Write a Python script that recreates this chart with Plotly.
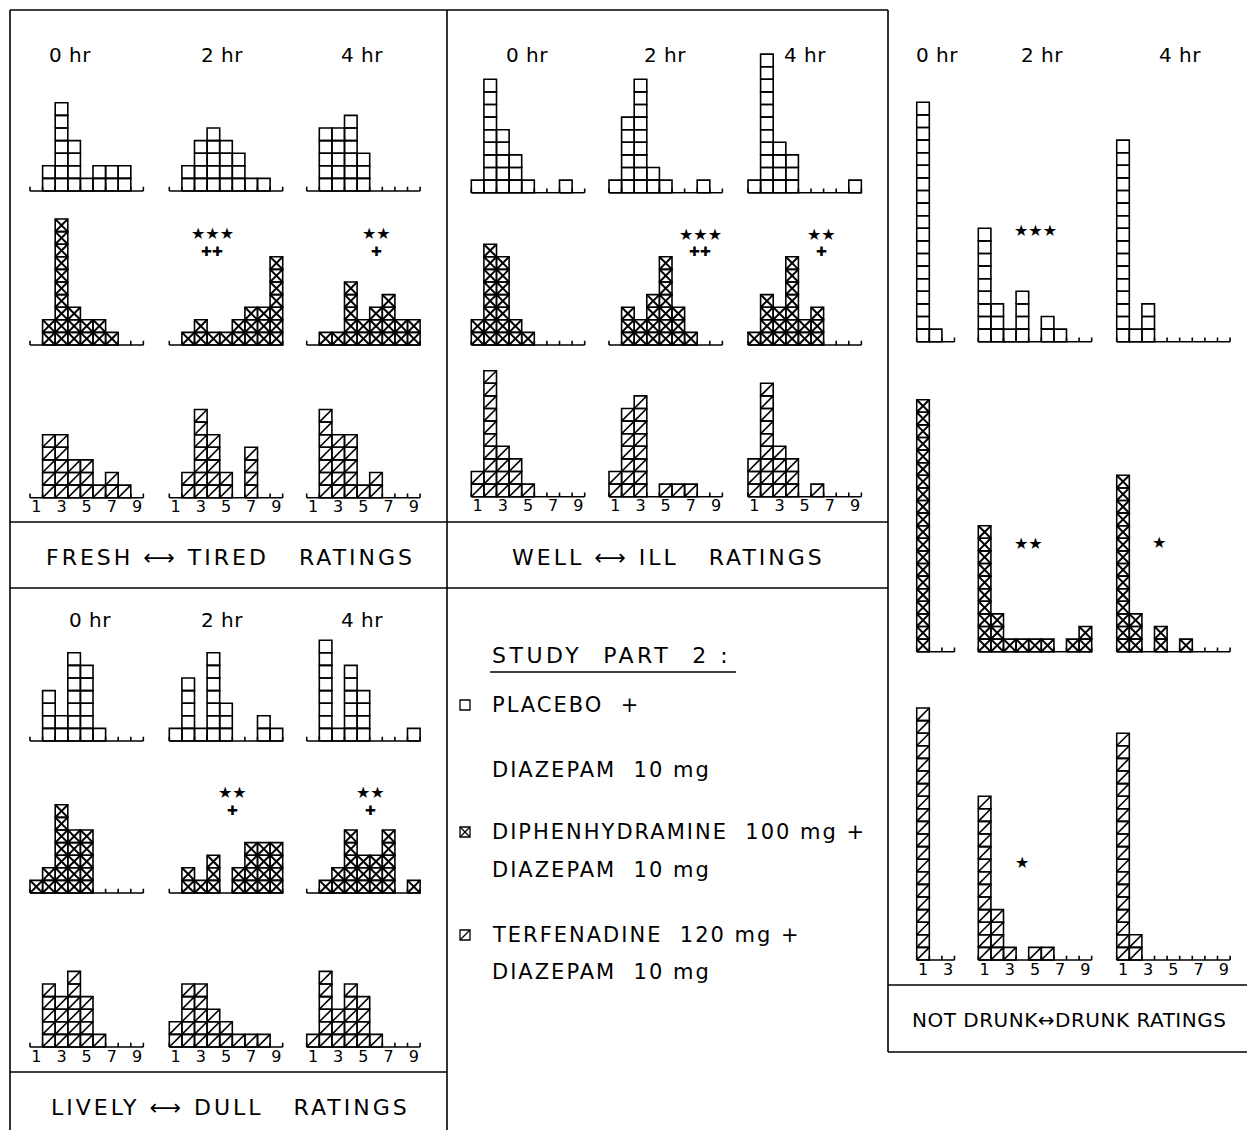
import plotly.graph_objects as go

W, H = 1247, 1130
S = 12.6  # pixel size of one square (style)

TIMES = ["0 hr", "2 hr", "4 hr"]
RATINGS = [1, 2, 3, 4, 5, 6, 7, 8, 9]
TICK_VALUES = [1, 3, 5, 7, 9]
TICK_LABELS = ["1", "3", "5", "7", "9"]

# counts of subjects per rating (1..9); one list per time (0, 2, 4 hr)
fresh_tired_placebo = [[0, 2, 7, 4, 1, 2, 2, 2, 0], [0, 2, 4, 5, 4, 3, 1, 1, 0], [0, 5, 5, 6, 3, 0, 0, 0, 0]]
fresh_tired_diph = [[0, 2, 10, 3, 2, 2, 1, 0, 0], [0, 1, 2, 1, 1, 2, 3, 3, 7], [0, 1, 1, 5, 2, 3, 4, 2, 2]]
fresh_tired_terf = [[0, 5, 5, 3, 3, 1, 2, 1, 0], [0, 2, 7, 5, 2, 0, 4, 0, 0], [0, 7, 5, 5, 1, 2, 0, 0, 0]]

well_ill_placebo = [[1, 9, 5, 3, 1, 0, 0, 1, 0], [1, 6, 9, 2, 1, 0, 0, 1, 0], [1, 11, 4, 3, 0, 0, 0, 0, 1]]
well_ill_diph = [[2, 8, 7, 2, 1, 0, 0, 0, 0], [0, 3, 2, 4, 7, 3, 1, 0, 0], [1, 4, 3, 7, 2, 3, 0, 0, 0]]
well_ill_terf = [[2, 10, 4, 3, 1, 0, 0, 0, 0], [2, 7, 8, 0, 1, 1, 1, 0, 0], [3, 9, 4, 3, 0, 1, 0, 0, 0]]

lively_dull_placebo = [[0, 4, 2, 7, 6, 1, 0, 0, 0], [1, 5, 1, 7, 3, 0, 0, 2, 1], [0, 8, 1, 6, 4, 0, 0, 0, 1]]
lively_dull_diph = [[1, 2, 7, 5, 5, 0, 0, 0, 0], [0, 2, 1, 3, 0, 2, 4, 4, 4], [0, 1, 2, 5, 3, 3, 5, 0, 1]]
lively_dull_terf = [[0, 5, 4, 6, 4, 1, 0, 0, 0], [2, 5, 5, 3, 2, 1, 1, 1, 0], [1, 6, 3, 5, 4, 1, 0, 0, 0]]

drunk_placebo = [[19, 1, 0, 0, 0, 0, 0, 0, 0], [9, 3, 1, 4, 0, 2, 1, 0, 0], [16, 1, 3, 0, 0, 0, 0, 0, 0]]
drunk_diph = [[20, 0, 0, 0, 0, 0, 0, 0, 0], [10, 3, 1, 1, 1, 1, 0, 1, 2], [14, 3, 0, 2, 0, 1, 0, 0, 0]]
drunk_terf = [[20, 0, 0, 0, 0, 0, 0, 0, 0], [13, 4, 1, 0, 1, 1, 0, 0, 0], [18, 2, 0, 0, 0, 0, 0, 0, 0]]

PANEL_TITLES = ["FRESH ⟷ TIRED   RATINGS", "WELL ⟷ ILL   RATINGS",
                "LIVELY ⟷ DULL   RATINGS", "NOT DRUNK↔DRUNK RATINGS"]
LEGEND_TITLE = "STUDY  PART  2 :"
LEGEND_LINES = [["PLACEBO  +", "DIAZEPAM  10 mg"],
                ["DIPHENHYDRAMINE  100 mg +", "DIAZEPAM  10 mg"],
                ["TERFENADINE  120 mg +", "DIAZEPAM  10 mg"]]

# significance marks: (panel, drug row, time, text lines)
SIGNIF = [(0, 1, 1, ["★★★", "✚✚"]), (0, 1, 2, ["★★", "✚"]),
          (1, 1, 1, ["★★★", "✚✚"]), (1, 1, 2, ["★★", "✚"]),
          (2, 1, 1, ["★★", "✚"]), (2, 1, 2, ["★★", "✚"]),
          (3, 0, 1, ["★★★"]), (3, 1, 1, ["★★"]), (3, 1, 2, ["★"]), (3, 2, 1, ["★"])]

# ---------------- layout (pixel positions, style only) ----------------
PANELS = [
    dict(data=[fresh_tired_placebo, fresh_tired_diph, fresh_tired_terf],
         xs=[30, 169.3, 306.7], bases=[191, 345, 497.7], nslots=[9, 9, 9],
         time_xy=[(70, 55), (222, 55), (362, 55)], title_xy=(230, 558), title_size=22, ls=3),
    dict(data=[well_ill_placebo, well_ill_diph, well_ill_terf],
         xs=[471.3, 609, 748], bases=[192.7, 345, 496.7], nslots=[9, 9, 9],
         time_xy=[(527, 55), (665, 55), (805, 55)], title_xy=(668, 558), title_size=22, ls=3),
    dict(data=[lively_dull_placebo, lively_dull_diph, lively_dull_terf],
         xs=[30, 169.3, 306.7], bases=[741, 893, 1047], nslots=[9, 9, 9],
         time_xy=[(90, 620), (222, 620), (362, 620)], title_xy=(230, 1107), title_size=22, ls=3),
    dict(data=[drunk_placebo, drunk_diph, drunk_terf],
         xs=[916.7, 978.3, 1116.7], bases=[341.7, 651.7, 960], nslots=[3, 9, 9],
         time_xy=[(937, 55), (1042, 55), (1180, 55)], title_xy=(1069, 1020), title_size=20, ls=0.5),
]
SIG_POS = {  # pixel centre of first line
    (0, 1, 1): (212, 233), (0, 1, 2): (376, 233),
    (1, 1, 1): (700, 234), (1, 1, 2): (821, 234),
    (2, 1, 1): (232, 792), (2, 1, 2): (370, 792),
    (3, 0, 1): (1035, 231), (3, 1, 1): (1028, 543), (3, 1, 2): (1159, 542), (3, 2, 1): (1022, 862),
}

FONT = "DejaVu Sans"
LW = 1.6

fig = go.Figure()
layout = dict(width=W, height=H, margin=dict(l=0, r=0, t=0, b=0),
              paper_bgcolor="white", plot_bgcolor="rgba(0,0,0,0)", showlegend=False)
annotations = []
shapes = []


def px(x):
    return x / W


def py(y):
    return 1 - y / H


def spaced(txt, ls):
    return f"<span style='letter-spacing:{ls}px'>{txt}</span>"


ax_i = 0


def add_hist(counts, drug, x0, base, n, show_labels):
    global ax_i
    ax_i += 1
    xn = "x" if ax_i == 1 else f"x{ax_i}"
    yn = "y" if ax_i == 1 else f"y{ax_i}"
    xk = "xaxis" if ax_i == 1 else f"xaxis{ax_i}"
    yk = "yaxis" if ax_i == 1 else f"yaxis{ax_i}"
    c = counts[:n]
    ymax = max(max(c), 1) + 0.3
    ylo = -1.5
    xl, xr = 0.4, n + 0.6
    layout[xk] = dict(domain=[px(x0 + (xl - 0.5) * S), px(x0 + (xr - 0.5) * S)], range=[xl, xr],
                      visible=False, anchor=yn, fixedrange=True)
    layout[yk] = dict(domain=[py(base - ylo * S), py(base - ymax * S)], range=[ylo, ymax],
                      visible=False, anchor=xn, fixedrange=True)
    # baseline with ticks
    bx, by = [0.5, n + 0.5, None], [0, 0, None]
    for b in range(n + 1):
        bx += [b + 0.5, b + 0.5, None]
        by += [0, 0.33, None]
    fig.add_trace(go.Scatter(x=bx, y=by, mode="lines", line=dict(color="black", width=LW),
                             xaxis=xn, yaxis=yn, hoverinfo="skip"))
    ox, oy, dx, dy = [], [], [], []
    for cat, cnt in zip(RATINGS[:n], c):
        for k in range(1, cnt + 1):
            l, r, b, t = cat - 0.5, cat + 0.5, k - 1, k
            ox += [l, r, r, l, l, None]
            oy += [b, b, t, t, b, None]
            if drug == 1:
                dx += [l, r, None, l, r, None]
                dy += [b, t, None, t, b, None]
            elif drug == 2:
                dx += [l, r, None]
                dy += [b, t, None]
    fig.add_trace(go.Scatter(x=ox, y=oy, mode="lines", line=dict(color="black", width=LW),
                             xaxis=xn, yaxis=yn, hoverinfo="skip"))
    if dx:
        fig.add_trace(go.Scatter(x=dx, y=dy, mode="lines",
                                 line=dict(color="black", width=2.0 if drug == 1 else 1.6),
                                 xaxis=xn, yaxis=yn, hoverinfo="skip"))
    if show_labels:
        tv = [v for v in TICK_VALUES if v <= n]
        tt = [TICK_LABELS[TICK_VALUES.index(v)] for v in tv]
        fig.add_trace(go.Scatter(x=tv, y=[-0.85] * len(tv), mode="text", text=tt,
                                 textfont=dict(family=FONT, size=16, color="black"),
                                 cliponaxis=False, xaxis=xn, yaxis=yn, hoverinfo="skip"))


for pi, P in enumerate(PANELS):
    for d in range(3):
        for t in range(3):
            add_hist(P["data"][d][t], d, P["xs"][t], P["bases"][d], P["nslots"][t], d == 2)
    for t in range(3):
        x, y = P["time_xy"][t]
        annotations.append(dict(x=px(x), y=py(y), xref="paper", yref="paper", text=spaced(TIMES[t], 0.5),
                                showarrow=False, font=dict(family=FONT, size=20, color="black"),
                                xanchor="center", yanchor="middle"))
    x, y = P["title_xy"]
    annotations.append(dict(x=px(x), y=py(y), xref="paper", yref="paper",
                            text=spaced(PANEL_TITLES[pi], P["ls"]),
                            showarrow=False, font=dict(family=FONT, size=P["title_size"], color="black"),
                            xanchor="center", yanchor="middle"))

for (p, d, t, lines) in SIGNIF:
    x, y = SIG_POS[(p, d, t)]
    for j, txt in enumerate(lines):
        annotations.append(dict(x=px(x), y=py(y + j * 18), xref="paper", yref="paper", text=txt,
                                showarrow=False,
                                font=dict(family=FONT, size=16 if j == 0 else 13, color="black"),
                                xanchor="center", yanchor="middle"))

# legend block
annotations.append(dict(x=px(490), y=py(655), xref="paper", yref="paper", text=spaced(LEGEND_TITLE, 3.5),
                        showarrow=False, font=dict(family=FONT, size=22, color="black"),
                        xanchor="left", yanchor="middle"))
shapes.append(dict(type="line", xref="paper", yref="paper", x0=px(490), x1=px(736),
                   y0=py(672), y1=py(672), line=dict(color="black", width=1.6)))
leg_y = [(705, 770), (832, 870), (935, 972)]
for i, (l1, l2) in enumerate(LEGEND_LINES):
    y1, y2 = leg_y[i]
    annotations.append(dict(x=px(490), y=py(y1), xref="paper", yref="paper", text=spaced(l1, 2), showarrow=False,
                            font=dict(family=FONT, size=21, color="black"), xanchor="left", yanchor="middle"))
    annotations.append(dict(x=px(490), y=py(y2), xref="paper", yref="paper", text=spaced(l2, 2), showarrow=False,
                            font=dict(family=FONT, size=21, color="black"), xanchor="left", yanchor="middle"))
    # icon
    ix0, ix1 = 460, 470
    iy0, iy1 = y1 - 5, y1 + 5
    shapes.append(dict(type="rect", xref="paper", yref="paper", x0=px(ix0), x1=px(ix1),
                       y0=py(iy1), y1=py(iy0), line=dict(color="black", width=1.3)))
    if i == 1:
        shapes.append(dict(type="line", xref="paper", yref="paper", x0=px(ix0), x1=px(ix1),
                           y0=py(iy1), y1=py(iy0), line=dict(color="black", width=1.3)))
        shapes.append(dict(type="line", xref="paper", yref="paper", x0=px(ix0), x1=px(ix1),
                           y0=py(iy0), y1=py(iy1), line=dict(color="black", width=1.3)))
    if i == 2:
        shapes.append(dict(type="line", xref="paper", yref="paper", x0=px(ix0), x1=px(ix1),
                           y0=py(iy1), y1=py(iy0), line=dict(color="black", width=1.3)))

# frame lines (pixel coords)
FRAME = [
    (10, 10, 888, 10), (10, 10, 10, 1130), (447, 10, 447, 1130), (888, 10, 888, 1020),
    (10, 522, 888, 522), (10, 588, 888, 588), (10, 1072, 447, 1072),
    (888, 985, 1247, 985), (888, 1020, 888, 1052), (888, 1052, 1247, 1052),
]
for (x0, y0, x1, y1) in FRAME:
    shapes.append(dict(type="line", xref="paper", yref="paper", x0=px(x0), x1=px(x1),
                       y0=py(y0), y1=py(y1), line=dict(color="black", width=1.6)))

layout["annotations"] = annotations
layout["shapes"] = shapes
fig.update_layout(**layout)
fig.write_html("out.html", config={"displayModeBar": False},
               post_script="document.body.style.margin='0';document.body.style.overflow='hidden';")
